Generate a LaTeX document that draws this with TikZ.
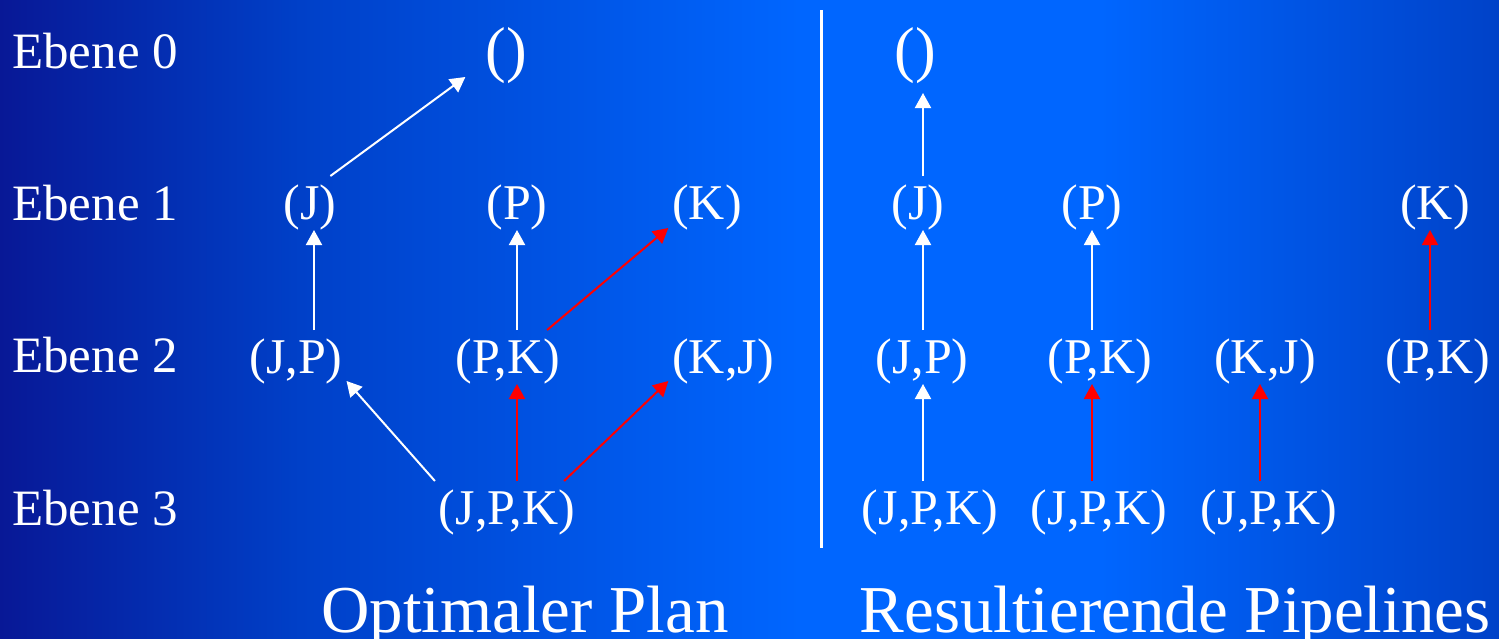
\documentclass[tikz,border=0pt]{standalone}
\usepackage{fontspec}
\setmainfont{Liberation Serif}
\usetikzlibrary{arrows.meta}
\definecolor{bgA}{RGB}{8,24,150}
\definecolor{bgB}{RGB}{0,64,200}
\definecolor{bgC}{RGB}{0,102,255}
\definecolor{bgD}{RGB}{0,66,200}
\pgfdeclarehorizontalshading{slidebg}{100bp}{color(0bp)=(bgA); color(25bp)=(bgA); color(35bp)=(bgB); color(51.7bp)=(bgC); color(61.7bp)=(bgC); color(75bp)=(bgD); color(100bp)=(bgD)}
\tikzset{
  lvl/.style={anchor=base west, text=white, font=\fontsize{51}{60}\selectfont, inner sep=0pt},
  nd/.style={anchor=base, text=white, font=\fontsize{50}{60}\selectfont, inner sep=0pt, outer sep=0pt, text height=43pt, text depth=11pt},
  rootnd/.style={anchor=base, text=white, font=\fontsize{62}{70}\selectfont, inner sep=0pt, outer sep=0pt, text height=45pt, text depth=23pt},
  ttl/.style={anchor=base, text=white, font=\fontsize{67}{80}\selectfont, inner sep=0pt},
  warr/.style={draw=white, line width=2pt, -{Triangle[length=15pt,width=16pt]}},
  rarr/.style={draw=red, line width=2pt, -{Triangle[length=15pt,width=16pt]}},
  sepline/.style={draw=white, line width=3pt}
}
\begin{document}
\begin{tikzpicture}[x=1pt,y=-1pt]
\shade[shading=slidebg] (0,0) rectangle (1499,638);
\useasboundingbox (0,0) rectangle (1499,638);
% level labels
\node[lvl] (L0) at (12,68) {Ebene 0};
\node[lvl] (L1) at (12,220) {Ebene 1};
\node[lvl] (L2) at (12,372) {Ebene 2};
\node[lvl] (L3) at (12,525) {Ebene 3};
% left tree
\node[rootnd] (E0L) at (506,70) {()};
\node[nd] (J1) at (310,219) {(J)};
\node[nd] (P1) at (517,219) {(P)};
\node[nd] (K1) at (707,219) {(K)};
\node[nd] (JP2) at (296,373) {(J,P)};
\node[nd] (PK2) at (508,373) {(P,K)};
\node[nd] (KJ2) at (723,373) {(K,J)};
\node[nd] (JPK3) at (507,524) {(J,P,K)};
% right pipelines
\node[rootnd] (E0R) at (915,70) {()};
\node[nd] (J1r) at (918,219) {(J)};
\node[nd] (P1r) at (1092,219) {(P)};
\node[nd] (K1r) at (1435,219) {(K)};
\node[nd] (JP2r) at (922,373) {(J,P)};
\node[nd] (PK2r) at (1100,373) {(P,K)};
\node[nd] (KJ2r) at (1265,373) {(K,J)};
\node[nd] (PK2rr) at (1438,373) {(P,K)};
\node[nd] (JPK3a) at (930,524) {(J,P,K)};
\node[nd] (JPK3b) at (1099,524) {(J,P,K)};
\node[nd] (JPK3c) at (1269,524) {(J,P,K)};
% titles
\node[ttl] (T1) at (525,632) {Optimaler Plan};
\node[ttl] (T2) at (1175,632) {Resultierende Pipelines};
% separator
\draw[sepline] (821,10) -- (821,548);
% left arrows
\draw[warr] ([xshift=-6pt]J1.north east) -- ([xshift=-20pt,yshift=16pt]E0L.south west);
\draw[warr] ([xshift=18pt]JP2.north) -- ([xshift=4pt]J1.south);
\draw[warr] ([xshift=9pt]PK2.north) -- (P1.south);
\draw[rarr] ([xshift=-13pt]PK2.north east) -- ([xshift=-4pt,yshift=2pt]K1.south west);
\draw[warr] ([xshift=-4pt]JPK3.north west) -- ([xshift=4pt,yshift=3pt]JP2.south east);
\draw[rarr] ([xshift=10pt]JPK3.north) -- ([xshift=9pt]PK2.south);
\draw[rarr] ([xshift=-11pt]JPK3.north east) -- ([xshift=-4pt,yshift=3pt]KJ2.south west);
% right arrows
\draw[warr] ([xshift=5pt]J1r.north) -- ([xshift=8pt]E0R.south);
\draw[warr] ([xshift=1pt]JP2r.north) -- ([xshift=5pt]J1r.south);
\draw[warr] ([xshift=-8pt]PK2r.north) -- (P1r.south);
\draw[rarr] ([xshift=-8pt]PK2rr.north) -- ([xshift=-5pt]K1r.south);
\draw[warr] ([xshift=-7pt]JPK3a.north) -- ([xshift=1pt]JP2r.south);
\draw[rarr] ([xshift=-7pt]JPK3b.north) -- ([xshift=-8pt]PK2r.south);
\draw[rarr] ([xshift=-9pt]JPK3c.north) -- ([xshift=-5pt]KJ2r.south);
\end{tikzpicture}
\end{document}
